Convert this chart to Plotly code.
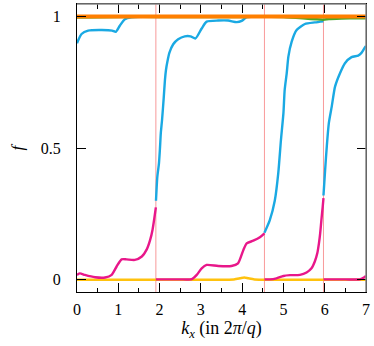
import plotly.graph_objects as go

# ---- data ----
crossings = [1.91, 4.54, 5.97]

orange_x = [0, 1, 2, 3, 4, 5, 6, 7]
orange_y = [1, 1, 1, 1, 1, 1, 1, 1]

green_x = [0, 1, 2, 3, 4, 5, 5.97, 6.1, 6.4, 6.8, 7]
green_y = [0.997, 0.999, 0.999, 0.999, 0.999, 0.999, 0.988, 0.991, 0.993, 0.994, 0.994]

yellow_x = [0, 1, 2, 3, 3.8, 3.95, 4.05, 4.15, 4.3, 5, 6, 7]
yellow_y = [0.0, 0.0, 0.0, 0.0, 0.001, 0.005, 0.008, 0.005, 0.001, 0.0, 0.0, 0.0]

cyan_x = [0, 0.11, 0.27, 0.6, 0.85, 0.94, 1.04, 1.16, 1.32, 1.6, 1.91, None,
          1.913, 1.945, 1.985, 2.01, 2.03, 2.06, 2.1, 2.13, 2.155, 2.19, 2.235, 2.33,
          2.45, 2.61, 2.75, 2.87, 3.02, 3.14, 3.42, 3.66, 3.87, 3.99, 4.11, 4.3, 4.54, None,
          4.54, 4.67, 4.79, 4.875, 4.94, 5.0, 5.03, 5.08, 5.12, 5.2, 5.32, 5.52, 5.76, 5.97, None,
          5.97, 6.01, 6.05, 6.1, 6.17, 6.25, 6.37, 6.49, 6.65, 6.81, 6.89, 6.97, 7.0]
cyan_y = [0.899, 0.934, 0.947, 0.949, 0.947, 0.942, 0.966, 0.99, 0.997, 0.999, 0.999, None,
          0.30, 0.39, 0.442, 0.5, 0.557, 0.607, 0.69, 0.759, 0.797, 0.829, 0.861, 0.895,
          0.914, 0.925, 0.925, 0.917, 0.955, 0.981, 0.985, 0.985, 0.979, 0.984, 0.998, 0.999, 0.999, None,
          0.178, 0.226, 0.3, 0.405, 0.531, 0.633, 0.721, 0.785, 0.848, 0.905, 0.949, 0.972, 0.978, 0.982, None,
          0.32, 0.417, 0.506, 0.595, 0.658, 0.734, 0.785, 0.823, 0.846, 0.852, 0.862, 0.882, 0.888]

magenta_x = [0, 0.07, 0.19, 0.44, 0.68, 0.84, 0.96, 1.08, 1.2, 1.4, 1.57, 1.69, 1.77, 1.83, 1.87, 1.91, None,
             1.91, 2.2, 2.5, 2.78, 2.9, 3.02, 3.14, 3.42, 3.74, 3.9, 4.03, 4.11, 4.27, 4.43, 4.54, None,
             4.54, 4.67, 4.83, 5.0, 5.16, 5.4, 5.56, 5.68, 5.76, 5.82, 5.86, 5.89, 5.92, 5.95, 5.97, None,
             5.97, 6.05, 6.5, 6.85, 6.96, 7.0]
magenta_y = [0.018, 0.024, 0.018, 0.009, 0.008, 0.018, 0.05, 0.077, 0.077, 0.075, 0.088, 0.115, 0.15, 0.19, 0.23, 0.275, None,
             0.001, 0.001, 0.001, 0.002, 0.018, 0.043, 0.056, 0.052, 0.052, 0.062, 0.113, 0.138, 0.148, 0.161, 0.176, None,
             0.001, 0.001, 0.005, 0.014, 0.017, 0.018, 0.027, 0.043, 0.069, 0.1, 0.138, 0.176, 0.227, 0.275, 0.31, None,
             0.001, 0.001, 0.001, 0.001, 0.009, 0.014]

x_ticks = [0, 1, 2, 3, 4, 5, 6, 7]
y_ticks = [0, 0.5, 1]
y_tick_labels = ["0", "0.5", "1"]

FONT = "Liberation Serif"

fig = go.Figure()

for v in crossings:
    fig.add_vline(x=v, line=dict(color="rgba(245,120,120,0.75)", width=1), layer="below")


def add(x, y, color, width):
    fig.add_trace(go.Scatter(x=x, y=y, mode="lines",
                             line=dict(color=color, width=width, shape="spline", smoothing=0.6),
                             connectgaps=False, hoverinfo="skip", showlegend=False))


add(yellow_x, yellow_y, "#ffc20e", 2.5)
add(magenta_x, magenta_y, "#e8178a", 2.4)
add(cyan_x, cyan_y, "#1aa9e3", 2.4)
add(green_x, green_y, "#4aa829", 2.5)
add(orange_x, orange_y, "#ff7f00", 4)

fig.update_layout(
    width=374, height=346,
    margin=dict(l=77, r=8, t=4, b=54, autoexpand=False),
    plot_bgcolor="white", paper_bgcolor="white",
    font=dict(family=FONT, size=16, color="black"),
)
fig.update_xaxes(
    range=[0, 7], tickvals=x_ticks, ticks="inside", ticklen=9, tickwidth=1, tickcolor="black",
    showline=True, linecolor="black", linewidth=1, mirror="allticks", showgrid=False, zeroline=False,
    minor=dict(dtick=0.5, ticks="inside", ticklen=4.5, tickcolor="black", showgrid=False),
    ticklabelstandoff=3, automargin=False,
    title=dict(text="<i>k</i><sub><i>x</i></sub> (in 2<i>π</i>/<i>q</i>)", standoff=4, font=dict(size=18)),
)
fig.update_yaxes(
    range=[-0.047, 1.048], tickvals=y_ticks, ticktext=y_tick_labels, ticks="inside", ticklen=9,
    tickwidth=1, tickcolor="black",
    showline=True, linecolor="black", linewidth=1, mirror="allticks", showgrid=False, zeroline=False,
    ticklabelstandoff=12, automargin=False,
    title=dict(text="<i>f</i>", standoff=12, font=dict(size=17)),
)

# grey top and right frame lines
fig.add_shape(type="line", xref="paper", yref="paper", x0=0, x1=1, y0=1, y1=1,
              line=dict(color="#888888", width=1.5))
fig.add_shape(type="line", xref="paper", yref="paper", x0=1, x1=1, y0=0, y1=1,
              line=dict(color="#888888", width=1.5))

fig.write_html("out.html", config={"displayModeBar": False},
               post_script="document.body.style.margin='0';document.body.style.overflow='hidden';")
